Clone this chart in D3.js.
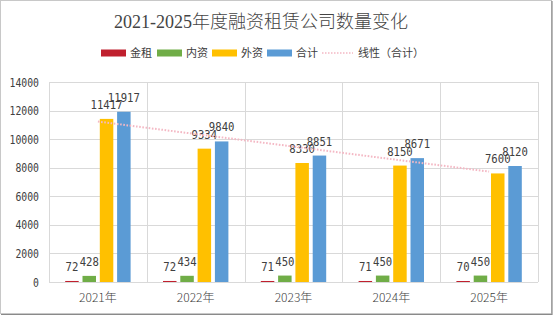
<!DOCTYPE html>
<html>
<head>
<meta charset="utf-8">
<script src="https://cdn.jsdelivr.net/npm/d3@7"></script>
<style>
  body { margin: 0; background: #fff; }
  svg { display: block; }
</style>
</head>
<body>
<svg width="553" height="315"></svg>
<script>
// chart data
var years = ["2021年", "2022年", "2023年", "2024年", "2025年"];
var seriesNames = ["金租", "内资", "外资", "合计"];
var jinzu = [72, 72, 71, 71, 70];
var neizi = [428, 434, 450, 450, 450];
var waizi = [11417, 9334, 8330, 8150, 7600];
var heji = [11917, 9840, 8851, 8671, 8120];
var yTicks = [0, 2000, 4000, 6000, 8000, 10000, 12000, 14000];
var colors = ["#C0202E", "#70AD47", "#FFC000", "#5B9BD5"];
var trendColor = "#F4B8C4";

var seriesValues = [jinzu, neizi, waizi, heji];

var margin = { top: 82, right: 15, bottom: 33, left: 49 },
    width = 553 - margin.left - margin.right,
    height = 315 - margin.top - margin.bottom;

var svg = d3.select("svg");

// outer frame
svg.append("rect")
    .attr("x", 0.5).attr("y", 0.5)
    .attr("width", 551).attr("height", 313)
    .attr("fill", "#fff")
    .attr("stroke", "#c8c8c8");
svg.append("path")
    .attr("d", "M552,1V314.5H1")
    .attr("fill", "none")
    .attr("stroke", "#8a8a8a")
    .attr("stroke-width", 1.2);

// title
svg.append("text")
    .attr("x", 261)
    .attr("y", 28)
    .attr("text-anchor", "middle")
    .style("font-family", "'Liberation Serif', 'Noto Sans CJK SC', serif")
    .style("font-size", "18px")
    .style("font-weight", "300")
    .attr("fill", "#444")
    .text("2021-2025年度融资租赁公司数量变化");

var g = svg.append("g")
    .attr("transform", "translate(" + margin.left + "," + margin.top + ")");

var x = d3.scaleBand()
    .domain(years)
    .range([0, width])
    .padding(0);

var xSub = d3.scaleBand()
    .domain(seriesNames)
    .range([16.2, x.bandwidth() - 16.2])
    .paddingInner(0.22)
    .paddingOuter(0);

var y = d3.scaleLinear()
    .domain([0, 14000])
    .range([height, 0]);

// horizontal gridlines
g.append("g")
    .selectAll("line")
    .data(yTicks)
    .enter()
    .append("line")
    .attr("x1", 0).attr("x2", width)
    .attr("y1", function (d) { return Math.round(y(d)) + 0.5; })
    .attr("y2", function (d) { return Math.round(y(d)) + 0.5; })
    .attr("stroke", "#d9d9d9")
    .attr("stroke-width", 1);

// vertical gridlines at category boundaries
var bounds = years.map(function (d) { return x(d); }).concat([width]);
g.append("g")
    .selectAll("line")
    .data(bounds)
    .enter()
    .append("line")
    .attr("x1", function (d) { return Math.round(d) + 0.5; })
    .attr("x2", function (d) { return Math.round(d) + 0.5; })
    .attr("y1", 0).attr("y2", height)
    .attr("stroke", "#d9d9d9")
    .attr("stroke-width", 1);

// y axis labels
var yAxis = g.append("g")
    .call(d3.axisLeft(y).tickValues(yTicks).tickFormat(d3.format("d")).tickSize(0).tickPadding(10));
yAxis.select(".domain").remove();
yAxis.selectAll("text")
    .style("font-family", "'DejaVu Sans Mono', monospace")
    .style("font-size", "11.5px")
    .attr("fill", "#404040")
    .attr("dy", "0.36em")
    .attr("textLength", function (d) { return String(d).length * 5.9; })
    .attr("lengthAdjust", "spacingAndGlyphs");

// x axis labels
var xAxis = g.append("g")
    .attr("transform", "translate(0," + height + ")")
    .call(d3.axisBottom(x).tickSize(0).tickPadding(10));
xAxis.select(".domain").remove();
xAxis.selectAll("text")
    .style("font-family", "'Noto Sans CJK SC', sans-serif")
    .style("font-size", "12px")
    .style("font-weight", "300")
    .attr("fill", "#404040")
    .attr("dy", "0.85em");

// bars
var groups = g.selectAll(".grp")
    .data(years)
    .enter()
    .append("g")
    .attr("class", "grp")
    .attr("transform", function (d) { return "translate(" + x(d) + ",0)"; });

groups.each(function (yr, i) {
    var cell = d3.select(this);
    seriesNames.forEach(function (s, k) {
        var v = seriesValues[k][i];
        cell.append("rect")
            .attr("x", xSub(s))
            .attr("width", xSub.bandwidth())
            .attr("y", y(v))
            .attr("height", height - y(v))
            .attr("fill", colors[k]);
        cell.append("text")
            .attr("x", xSub(s) + xSub.bandwidth() / 2)
            .attr("y", y(v) - 10)
            .attr("text-anchor", "middle")
            .style("font-family", "'DejaVu Sans Mono', monospace")
            .style("font-size", "13px")
            .attr("fill", "#404040")
            .attr("textLength", String(v).length * 6.4)
            .attr("lengthAdjust", "spacingAndGlyphs")
            .text(v);
    });
});

// axis baseline
g.append("line")
    .attr("x1", 0).attr("x2", width)
    .attr("y1", height + 0.5).attr("y2", height + 0.5)
    .attr("stroke", "#d9d9d9");

// linear trendline for 合计
var xs = heji.map(function (d, i) { return i + 1; });
var mx = d3.mean(xs), my = d3.mean(heji);
var slope = d3.sum(xs, function (xi, i) { return (xi - mx) * (heji[i] - my); }) /
    d3.sum(xs, function (xi) { return (xi - mx) * (xi - mx); });
var icept = my - slope * mx;
var trendPts = [xs[0], xs[xs.length - 1]].map(function (xi) {
    return [x(years[xi - 1]) + x.bandwidth() / 2, y(icept + slope * xi)];
});
g.append("path")
    .attr("d", d3.line()(trendPts))
    .attr("fill", "none")
    .attr("stroke", trendColor)
    .attr("stroke-width", 2)
    .attr("stroke-dasharray", "1.6,1.6");

// legend
var legend = svg.append("g")
    .attr("transform", "translate(101,53)");
var legendItems = [
    { name: "金租", color: colors[0], x: 0 },
    { name: "内资", color: colors[1], x: 56 },
    { name: "外资", color: colors[2], x: 111 },
    { name: "合计", color: colors[3], x: 166 }
];
legendItems.forEach(function (d) {
    legend.append("rect")
        .attr("x", d.x).attr("y", -3.5)
        .attr("width", 25).attr("height", 7)
        .attr("fill", d.color);
    legend.append("text")
        .attr("x", d.x + 29).attr("y", 0)
        .attr("dy", "0.36em")
        .style("font-family", "'Noto Sans CJK SC', sans-serif")
        .style("font-size", "11px")
        .attr("fill", "#404040")
        .text(d.name);
});
legend.append("line")
    .attr("x1", 221).attr("x2", 252)
    .attr("y1", 0).attr("y2", 0)
    .attr("stroke", trendColor)
    .attr("stroke-width", 1.5)
    .attr("stroke-dasharray", "1.5,1.5");
legend.append("text")
    .attr("x", 257).attr("y", 0)
    .attr("dy", "0.36em")
    .style("font-family", "'Noto Sans CJK SC', sans-serif")
    .style("font-size", "11px")
    .attr("fill", "#404040")
    .text("线性（合计）");
</script>
</body>
</html>
